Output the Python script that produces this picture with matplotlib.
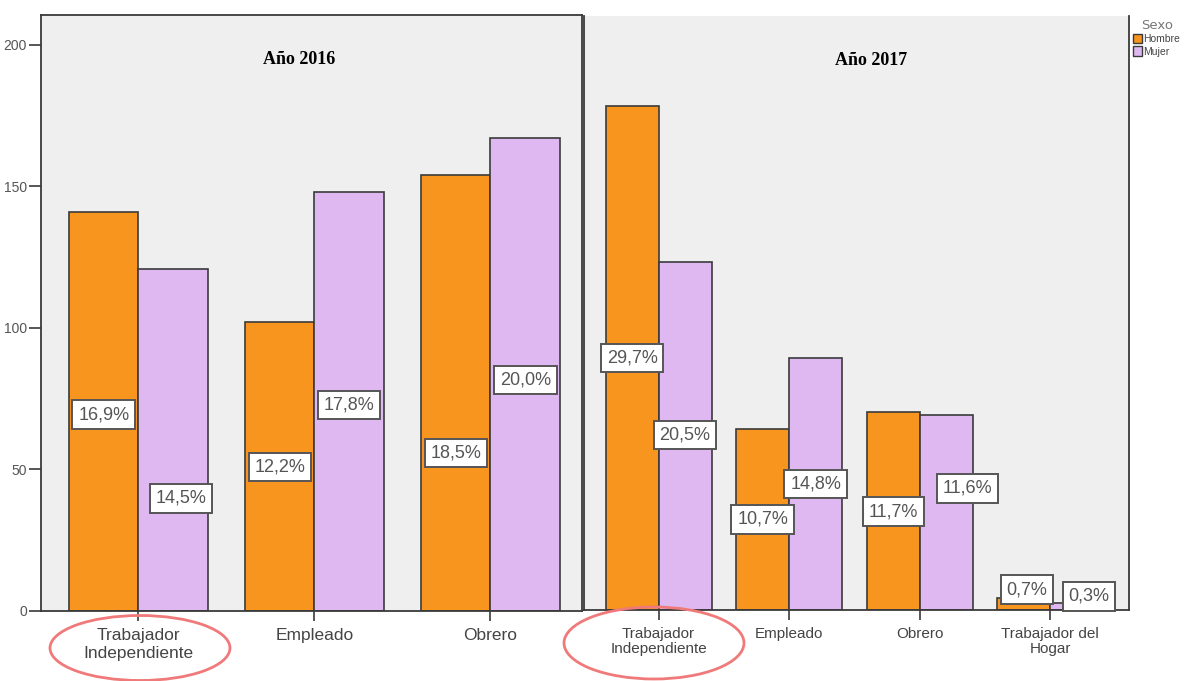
import matplotlib
matplotlib.use('Agg')
import matplotlib.pyplot as plt
import numpy as np
from matplotlib.patches import Ellipse, Patch

# datos
cats_2016 = ['Trabajador\nIndependiente', 'Empleado', 'Obrero']
hombre_2016 = [141, 102, 154]
mujer_2016 = [121, 148, 167]
pct_h_2016 = ['16,9%', '12,2%', '18,5%']
pct_m_2016 = ['14,5%', '17,8%', '20,0%']

cats_2017 = ['Trabajador\nIndependiente', 'Empleado', 'Obrero', 'Trabajador del\nHogar']
hombre_2017 = [178, 64, 70, 4.4]
mujer_2017 = [123, 89, 69, 2.4]
pct_h_2017 = ['29,7%', '10,7%', '11,7%', '0,7%']
pct_m_2017 = ['20,5%', '14,8%', '11,6%', '0,3%']

# posicion de las etiquetas (altura en unidades del eje, desplazamiento x)
lab_y_h_2016 = [69.4, 50.9, 55.8]
lab_y_m_2016 = [39.8, 72.8, 81.6]
lab_dx_h_2016 = [0, 0, 0]
lab_dx_m_2016 = [0.043, 0, 0]
lab_y_h_2017 = [89, 32, 34.8, 7.2]
lab_y_m_2017 = [61.8, 44.5, 43, 4.8]
lab_dx_h_2017 = [0, 0, 0, 0.027]
lab_dx_m_2017 = [0, 0, 0.165, 0.096]

FONT = ['Liberation Sans', 'DejaVu Sans']
C_H = '#f7951e'
C_M = '#dfb8f2'
BG = '#efefef'
EDGE = '#3a3a3a'
TXT = '#555555'

W, H = 1191, 681
fig = plt.figure(figsize=(W / 100, H / 100), dpi=100)


def px_axes(x0, x1, ytop, ybot):
    return fig.add_axes([x0 / W, 1 - ybot / H, (x1 - x0) / W, (ybot - ytop) / H])


def panel(ax, cats, hom, muj, ph, pm, lyh, lym, ldxh, ldxm, bw, fs_tick, lsp, title, tx):
    x = np.arange(len(cats))
    ax.set_facecolor(BG)
    ax.bar(x - bw / 2, hom, bw, color=C_H, edgecolor=EDGE, linewidth=1.2, zorder=2)
    ax.bar(x + bw / 2, muj, bw, color=C_M, edgecolor=EDGE, linewidth=1.2, zorder=2)
    box = dict(boxstyle='square,pad=0.32', fc='white', ec='#555555', lw=1.4)
    for i in range(len(cats)):
        ax.text(x[i] - bw / 2 + ldxh[i], lyh[i], ph[i], ha='center', va='center', fontsize=13,
                color=TXT, family=FONT, bbox=box, zorder=4)
        ax.text(x[i] + bw / 2 + ldxm[i], lym[i], pm[i], ha='center', va='center', fontsize=13,
                color=TXT, family=FONT, bbox=box, zorder=4)
    ax.set_xticks(x)
    ax.set_xticklabels(cats, fontsize=fs_tick, color='#444444', family=FONT, linespacing=lsp)
    ax.tick_params(axis='x', length=7, width=1.2, color=EDGE, pad=5)
    ax.text(tx, 0.925, title, transform=ax.transAxes, ha='center', va='center',
            fontsize=13, fontweight='bold', family='Liberation Serif', color='black')
    for s in ax.spines.values():
        s.set_color(EDGE)
        s.set_linewidth(1.3)


# Año 2016
ax1 = px_axes(41, 582, 15, 611)
panel(ax1, cats_2016, hombre_2016, mujer_2016, pct_h_2016, pct_m_2016,
      lab_y_h_2016, lab_y_m_2016, lab_dx_h_2016, lab_dx_m_2016, 0.395, 12.5, 1.25, 'Año 2016', 0.478)
ax1.set_xlim(-0.554, 2.52)
ax1.set_ylim(0, 210.6)
ax1.set_yticks([0, 50, 100, 150, 200])
ax1.tick_params(axis='y', length=9, width=1.2, color=EDGE, labelsize=10, labelcolor='#555555', pad=1)
for lb in ax1.get_yticklabels():
    lb.set_family(FONT)

# Año 2017
ax2 = px_axes(584, 1129, 16, 610)
panel(ax2, cats_2017, hombre_2017, mujer_2017, pct_h_2017, pct_m_2017,
      lab_y_h_2017, lab_y_m_2017, lab_dx_h_2017, lab_dx_m_2017, 0.406, 11, 1.15, 'Año 2017', 0.527)
ax2.set_xlim(-0.572, 3.605)
ax2.set_ylim(0, 209.9)
ax2.set_yticks([])
ax2.spines['top'].set_visible(False)

# leyenda
handles = [Patch(facecolor=C_H, edgecolor=EDGE, label='Hombre'),
           Patch(facecolor=C_M, edgecolor=EDGE, label='Mujer')]
leg = fig.legend(handles=handles, loc='upper left', bbox_to_anchor=(1133 / W, 1 - 19 / H),
                 frameon=False, title='Sexo',
                 handlelength=0.85, handleheight=1.0, handletextpad=0.15, labelspacing=0.2,
                 borderpad=0, borderaxespad=0, prop={'family': FONT, 'size': 7.5})
leg.get_title().set_color('#777777')
leg.get_title().set_fontsize(9.5)
for t in leg.get_texts():
    t.set_color('#444444')

# elipses rojas
for cx, cy, ew, eh in [(140, 648, 180, 65), (654, 643, 180, 72)]:
    fig.add_artist(Ellipse((cx / W, 1 - cy / H), ew / W, eh / H, transform=fig.transFigure,
                           fill=False, edgecolor='#f07a7a', linewidth=2))

fig.savefig('out.png', dpi=100, facecolor='white')
